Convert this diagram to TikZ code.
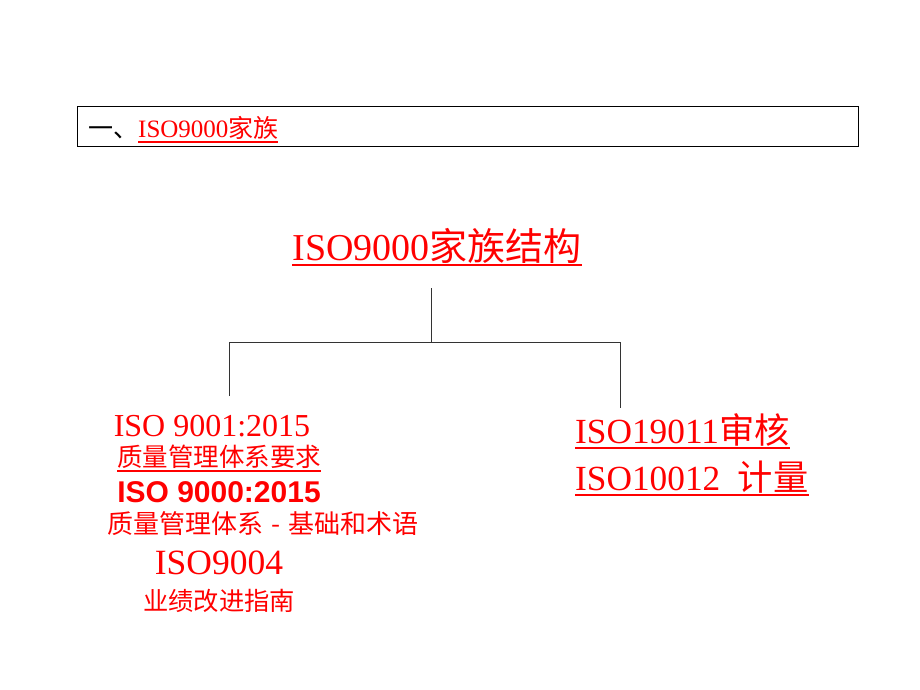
\documentclass[tikz,border=0pt]{standalone}
\usepackage{fontspec}
\setmainfont{Liberation Serif}
\setsansfont{Liberation Sans}
\newfontfamily\cjk{Noto Sans CJK SC}
\newcommand\fs[1]{\fontsize{#1}{#1}\selectfont}
% 下划线
\newcommand\ul[1]{\setbox0\hbox{#1}\rlap{\rule[-5.8pt]{\wd0}{1.6pt}}\box0}

\begin{document}
\begin{tikzpicture}[x=1pt,y=-1pt,
  txt/.style={inner sep=0pt,anchor=base,text=red},
  link/.style={draw=black!80,line width=0.9pt}]
\useasboundingbox (0,0) rectangle (920,690);

% 标题框
\draw [line width=0.9pt] (77,106) rectangle (858,146);
\node [txt,anchor=base west,text=black] (hdr) at (88,137)
  {\fs{25}{\cjk 一、}\textcolor{red}{\ul{ISO9000{\cjk 家族}}}};

% 结构图的顶部
\node [txt] (top) at (437,260) {\fs{38}\ul{ISO9000{\cjk 家族结构}}};

% 连线用的点
\coordinate (a) at (431,288);
\coordinate (hub) at (431,342);
\coordinate (l) at (229,342);
\coordinate (r) at (620,342);
\coordinate (lend) at (229,396);
\coordinate (rend) at (620,408);

\draw [link] (a) -- (hub);
\draw [link] (lend) -- (l) -- (r) -- (rend);

% 左边一列
\node [txt] (s9001) at (212,436) {\fs{32}ISO 9001:2015};
\node [txt] (s9001t) at (219,466) {\fs{25.5}\ul{\cjk 质量管理体系要求}};
\node [txt] (s9000) at (219,502) {\fs{30}\sffamily\bfseries ISO 9000:2015};
\node [txt] (s9000t) at (263,533) {\fs{26}\cjk 质量管理体系\hspace{0.3em}-\hspace{0.3em}基础和术语};
\node [txt] (s9004) at (219,574) {\fs{35.5}ISO9004};
\node [txt] (s9004t) at (219,610) {\fs{25.3}\cjk 业绩改进指南};

% 右边一列
\node [txt,anchor=base west] (s19011) at (575,443) {\fs{35.3}\ul{ISO19011{\cjk 审核}}};
\node [txt,anchor=base west] (s10012) at (575,490) {\fs{35.3}\ul{ISO10012\hspace{0.5em}{\cjk 计量}}};

\end{tikzpicture}
\end{document}
